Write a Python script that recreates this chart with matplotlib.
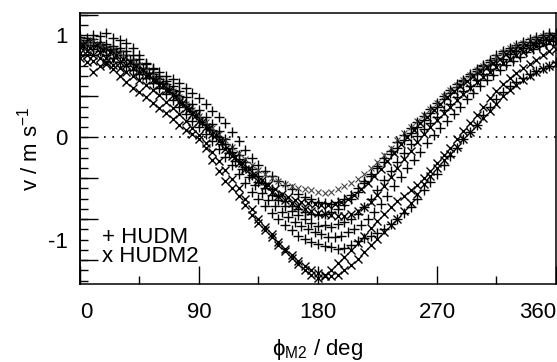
import numpy as np
import matplotlib
matplotlib.use("Agg")
import matplotlib.pyplot as plt
from matplotlib.ticker import MultipleLocator, FixedLocator, NullFormatter

plt.rcParams["font.family"] = ["Liberation Sans", "DejaVu Sans"]
plt.rcParams["mathtext.fontset"] = "custom"
plt.rcParams["mathtext.rm"] = "Liberation Sans"
plt.rcParams["mathtext.it"] = "Liberation Sans:italic"
plt.rcParams["axes.unicode_minus"] = False

# phase angle (deg): two interleaved 5-degree sampling grids
phi = np.arange(0, 361, 5)
phi2 = np.arange(2.5, 360, 5)

# HUDM runs (+)
hudm_a = [0.98, 0.97, 1.00, 0.99, 1.02, 0.97, 0.95, 0.92, 0.87, 0.80, 0.73, 0.68, 0.64,
          0.60, 0.57, 0.53, 0.48, 0.43, 0.38, 0.33, 0.26, 0.20, 0.14, 0.05, -0.04, -0.12,
          -0.20, -0.27, -0.33, -0.38, -0.43, -0.47, -0.51, -0.55, -0.58, -0.60, -0.63, -0.64,
          -0.65, -0.63, -0.60, -0.56, -0.50, -0.43, -0.36, -0.28, -0.20, -0.13, -0.05, 0.02,
          0.09, 0.15, 0.21, 0.28, 0.34, 0.40, 0.46, 0.52, 0.56, 0.62, 0.67, 0.71, 0.76, 0.80,
          0.84, 0.87, 0.90, 0.93, 0.96, 0.98, 1.00, 1.02, 1.00]
hudm_b = [0.92, 0.95, 0.90, 0.93, 0.88, 0.86, 0.84, 0.80, 0.76, 0.72, 0.67, 0.62, 0.57,
          0.52, 0.46, 0.40, 0.33, 0.26, 0.20, 0.13, 0.07, 0.00, -0.07, -0.14, -0.21, -0.29,
          -0.37, -0.44, -0.50, -0.56, -0.61, -0.67, -0.72, -0.76, -0.80, -0.84, -0.87, -0.86,
          -0.88, -0.85, -0.83, -0.80, -0.75, -0.68, -0.60, -0.52, -0.42, -0.33, -0.24, -0.15,
          -0.07, 0.01, 0.08, 0.14, 0.20, 0.27, 0.33, 0.39, 0.45, 0.50, 0.56, 0.62, 0.67, 0.72,
          0.77, 0.81, 0.84, 0.87, 0.90, 0.92, 0.95, 0.96, 0.98]
hudm_c = [0.88, 0.90, 0.86, 0.84, 0.80, 0.78, 0.74, 0.70, 0.66, 0.62, 0.58, 0.53, 0.48,
          0.42, 0.36, 0.30, 0.23, 0.16, 0.10, 0.03, -0.04, -0.11, -0.19, -0.27, -0.36, -0.45,
          -0.53, -0.60, -0.67, -0.74, -0.80, -0.86, -0.91, -0.96, -0.99, -1.02, -1.04, -1.06,
          -1.07, -1.09, -1.08, -1.05, -1.01, -0.98, -0.96, -0.94, -0.90, -0.85, -0.80, -0.74,
          -0.68, -0.60, -0.52, -0.44, -0.36, -0.27, -0.18, -0.10, -0.02, 0.05, 0.12, 0.22,
          0.30, 0.37, 0.44, 0.50, 0.54, 0.58, 0.62, 0.65, 0.68, 0.70, 0.74]
hudm_d = [0.95, 0.93, 0.96, 0.90, 0.91, 0.89, 0.87, 0.84, 0.80, 0.77, 0.72, 0.67, 0.60,
          0.55, 0.50, 0.45, 0.39, 0.33, 0.27, 0.20, 0.13, 0.06, -0.02, -0.10, -0.17, -0.24,
          -0.31, -0.38, -0.45, -0.51, -0.57, -0.62, -0.67, -0.70, -0.73, -0.75, -0.76, -0.75,
          -0.73, -0.70, -0.66, -0.60, -0.53, -0.45, -0.38, -0.30, -0.24, -0.16, -0.10, -0.03,
          0.04, 0.10, 0.17, 0.24, 0.30, 0.37, 0.43, 0.49, 0.55, 0.60, 0.65, 0.70, 0.74, 0.78,
          0.82, 0.85, 0.88, 0.91, 0.93, 0.96, 0.98, 1.00, 1.02]
# on the phi2 grid
hudm_e = [0.90, 0.93, 0.89, 0.87, 0.85, 0.83, 0.80, 0.76, 0.72, 0.68, 0.63, 0.58, 0.53,
          0.47, 0.41, 0.35, 0.29, 0.22, 0.15, 0.08, 0.01, -0.07, -0.15, -0.23, -0.31, -0.39,
          -0.47, -0.54, -0.61, -0.67, -0.73, -0.78, -0.83, -0.87, -0.90, -0.93, -0.95, -0.97,
          -0.97, -0.96, -0.93, -0.90, -0.86, -0.80, -0.73, -0.65, -0.57, -0.48, -0.39, -0.30,
          -0.22, -0.14, -0.06, 0.02, 0.09, 0.16, 0.23, 0.30, 0.37, 0.43, 0.50, 0.56, 0.61,
          0.66, 0.71, 0.75, 0.79, 0.83, 0.86, 0.89, 0.91, 0.94]

# HUDM2 runs (x)
hudm2_a = [0.95, 0.92, 0.94, 0.90, 0.87, 0.85, 0.82, 0.79, 0.75, 0.71, 0.66, 0.61, 0.56,
           0.50, 0.45, 0.39, 0.33, 0.27, 0.21, 0.15, 0.09, 0.03, -0.03, -0.09, -0.15, -0.21,
           -0.27, -0.32, -0.36, -0.40, -0.43, -0.46, -0.48, -0.50, -0.51, -0.52, -0.53, -0.54,
           -0.53, -0.51, -0.48, -0.45, -0.41, -0.36, -0.30, -0.24, -0.17, -0.10, -0.03, 0.04,
           0.10, 0.16, 0.22, 0.28, 0.34, 0.40, 0.46, 0.51, 0.56, 0.61, 0.66, 0.70, 0.74, 0.79,
           0.83, 0.87, 0.90, 0.92, 0.95, 0.97, 0.99, 1.00, 0.98]
hudm2_b = [0.88, 0.84, 0.80, 0.83, 0.78, 0.76, 0.74, 0.71, 0.68, 0.64, 0.60, 0.56, 0.51,
           0.46, 0.41, 0.35, 0.29, 0.23, 0.16, 0.10, 0.03, -0.04, -0.11, -0.18, -0.25, -0.31,
           -0.37, -0.43, -0.48, -0.53, -0.57, -0.61, -0.64, -0.67, -0.70, -0.72, -0.74, -0.75,
           -0.76, -0.77, -0.77, -0.75, -0.72, -0.68, -0.63, -0.56, -0.48, -0.39, -0.30, -0.21,
           -0.13, -0.05, 0.03, 0.10, 0.17, 0.24, 0.30, 0.36, 0.42, 0.48, 0.54, 0.59, 0.64,
           0.69, 0.73, 0.77, 0.80, 0.83, 0.86, 0.89, 0.91, 0.93, 0.92]
hudm2_c = [0.82, 0.74, 0.64, 0.70, 0.72, 0.67, 0.60, 0.54, 0.48, 0.44, 0.39, 0.34, 0.29,
           0.24, 0.18, 0.12, 0.07, 0.03, -0.02, -0.10, -0.22, -0.33, -0.43, -0.50, -0.57,
           -0.66, -0.76, -0.84, -0.91, -0.97, -1.05, -1.11, -1.18, -1.24, -1.30, -1.35, -1.38,
           -1.36, -1.30, -1.23, -1.17, -1.10, -1.03, -0.96, -0.89, -0.82, -0.75, -0.68, -0.62,
           -0.57, -0.52, -0.47, -0.40, -0.33, -0.25, -0.17, -0.10, -0.02, 0.06, 0.14, 0.22,
           0.30, 0.38, 0.45, 0.52, 0.58, 0.63, 0.68, 0.72, 0.76, 0.80, 0.84, 0.86]
hudm2_d = [0.78, 0.80, 0.75, 0.78, 0.74, 0.71, 0.68, 0.64, 0.60, 0.56, 0.51, 0.46, 0.41,
           0.35, 0.29, 0.23, 0.16, 0.09, 0.02, -0.06, -0.14, -0.23, -0.32, -0.41, -0.50,
           -0.60, -0.70, -0.80, -0.88, -0.95, -1.02, -1.09, -1.15, -1.21, -1.26, -1.30, -1.33,
           -1.35, -1.36, -1.35, -1.30, -1.25, -1.19, -1.12, -1.05, -0.99, -0.93, -0.86, -0.80,
           -0.72, -0.64, -0.55, -0.46, -0.38, -0.30, -0.22, -0.16, -0.09, -0.02, 0.05, 0.12,
           0.19, 0.26, 0.33, 0.40, 0.46, 0.51, 0.56, 0.60, 0.64, 0.67, 0.70, 0.72]
# on the phi2 grid
hudm2_e = [0.90, 0.87, 0.90, 0.85, 0.83, 0.80, 0.77, 0.74, 0.70, 0.66, 0.61, 0.56, 0.51,
           0.46, 0.40, 0.34, 0.28, 0.22, 0.15, 0.09, 0.02, -0.05, -0.12, -0.19, -0.25, -0.31,
           -0.37, -0.42, -0.47, -0.51, -0.55, -0.58, -0.61, -0.63, -0.64, -0.65, -0.66, -0.66,
           -0.65, -0.63, -0.60, -0.56, -0.51, -0.45, -0.38, -0.31, -0.23, -0.15, -0.07, 0.00,
           0.07, 0.14, 0.20, 0.27, 0.33, 0.39, 0.45, 0.50, 0.55, 0.60, 0.65, 0.69, 0.73, 0.77,
           0.81, 0.84, 0.87, 0.90, 0.92, 0.95, 0.97, 0.99]

fig = plt.figure(figsize=(5.57, 3.62), dpi=100)
ax = fig.add_axes([0.1436, 0.2155, 0.8546, 0.7485])

for ys in [hudm_a, hudm_b, hudm_c, hudm_d]:
    ax.plot(phi, ys, ls="none", marker="+", ms=7, mew=1.0, color="black")
ax.plot(phi2, hudm_e, ls="none", marker="+", ms=7, mew=1.0, color="black")
ax.plot(phi, hudm2_a, ls="none", marker="x", ms=4.5, mew=0.8, color="#444444")
for ys in [hudm2_b, hudm2_c, hudm2_d]:
    ax.plot(phi, ys, ls="none", marker="x", ms=5.5, mew=1.0, color="black")
ax.plot(phi2, hudm2_e, ls="none", marker="x", ms=5.5, mew=1.0, color="black")

ax.axhline(0, xmin=0.05, xmax=1, color="black", ls=(0, (1, 4)), lw=1.2)

ax.set_xlim(0, 360)
ax.set_ylim(-1.434, 1.215)

ax.xaxis.set_major_locator(FixedLocator([0, 90, 180, 270, 360]))
ax.xaxis.set_minor_locator(FixedLocator([45, 135, 225, 315]))
ax.yaxis.set_major_locator(FixedLocator([-1, 0, 1]))
ax.yaxis.set_minor_locator(MultipleLocator(0.1))

ax.tick_params(axis="both", which="both", direction="in", top=False, right=False,
               labelsize=16, color="black")
ax.tick_params(axis="x", which="major", length=13, width=1.0, pad=13)
ax.tick_params(axis="x", which="minor", length=6, width=1.0)
ax.tick_params(axis="y", which="major", length=6, width=1.0, pad=9)
ax.tick_params(axis="y", which="minor", length=6, width=1.0)

# long y ticks every 0.4
sec = ax.secondary_yaxis("left")
sec.yaxis.set_major_locator(FixedLocator([-1.2, -0.8, -0.4, 0, 0.4, 0.8, 1.2]))
sec.yaxis.set_major_formatter(NullFormatter())
sec.tick_params(axis="y", which="major", direction="in", length=13, width=1.0)
sec.tick_params(axis="y", which="minor", left=False)
sec.spines["left"].set_linewidth(1.1)

ax.set_xticklabels(["0", "90", "180", "270", "360"])
xl = ax.get_xticklabels()
xl[0].set_horizontalalignment("left")
xl[-1].set_horizontalalignment("right")

for s in ax.spines.values():
    s.set_linewidth(1.1)

ax.set_xlabel(r"$\mathrm{\phi_{M2}}$ / deg", fontsize=16, labelpad=10)
ax.set_ylabel(r"v / m s$^{\mathrm{-1}}$", fontsize=16, labelpad=4)

ax.text(0.046, 0.137, "+ HUDM\nx HUDM2", transform=ax.transAxes, fontsize=16,
        va="center", ha="left", linespacing=0.9)

fig.savefig("out.png", dpi=100)
